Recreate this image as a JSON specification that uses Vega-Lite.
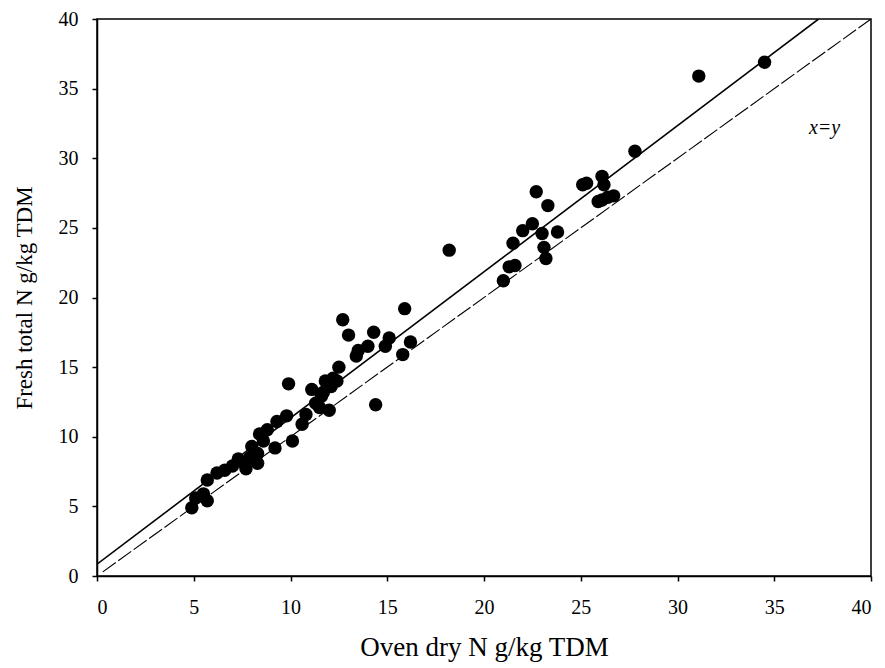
{
  "$schema": "https://vega.github.io/schema/vega-lite/v6.json",
  "width": 774,
  "height": 557,
  "autosize": "none",
  "padding": {"left": 97, "top": 19, "right": 14, "bottom": 92},
  "background": "white",
  "config": {
    "view": {"stroke": "black", "strokeWidth": 1.5},
    "font": "Liberation Serif",
    "axis": {
      "grid": false,
      "domainColor": "black",
      "domainWidth": 1.5,
      "tickColor": "black",
      "tickWidth": 1.5,
      "tickSize": 5,
      "labelFont": "Liberation Serif",
      "labelFontSize": 20,
      "labelColor": "black",
      "titleFont": "Liberation Serif",
      "titleFontWeight": "normal",
      "titleColor": "black"
    }
  },
  "datasets": {
    "pts": [
      {"oven": 4.9, "fresh": 4.9}, {"oven": 5.1, "fresh": 5.6}, {"oven": 5.5, "fresh": 5.9}, {"oven": 5.7, "fresh": 5.4},
      {"oven": 5.7, "fresh": 6.9}, {"oven": 6.2, "fresh": 7.4}, {"oven": 6.6, "fresh": 7.6}, {"oven": 7.0, "fresh": 7.9},
      {"oven": 7.3, "fresh": 8.4}, {"oven": 7.6, "fresh": 8.1}, {"oven": 7.7, "fresh": 7.7}, {"oven": 7.9, "fresh": 8.5},
      {"oven": 8.0, "fresh": 9.3}, {"oven": 8.3, "fresh": 8.8}, {"oven": 8.3, "fresh": 8.1}, {"oven": 8.4, "fresh": 10.2},
      {"oven": 8.6, "fresh": 9.7}, {"oven": 8.8, "fresh": 10.5}, {"oven": 9.2, "fresh": 9.2}, {"oven": 9.3, "fresh": 11.1},
      {"oven": 9.8, "fresh": 11.5}, {"oven": 9.9, "fresh": 13.8}, {"oven": 10.1, "fresh": 9.7}, {"oven": 10.6, "fresh": 10.9},
      {"oven": 10.8, "fresh": 11.6}, {"oven": 11.1, "fresh": 13.4}, {"oven": 11.3, "fresh": 12.4}, {"oven": 11.5, "fresh": 12.1},
      {"oven": 11.6, "fresh": 12.9}, {"oven": 11.7, "fresh": 13.2}, {"oven": 11.8, "fresh": 14.0}, {"oven": 12.0, "fresh": 11.9},
      {"oven": 12.1, "fresh": 13.6}, {"oven": 12.2, "fresh": 14.2}, {"oven": 12.4, "fresh": 14.0}, {"oven": 12.5, "fresh": 15.0},
      {"oven": 12.7, "fresh": 18.4}, {"oven": 13.0, "fresh": 17.3}, {"oven": 13.4, "fresh": 15.8}, {"oven": 13.5, "fresh": 16.2},
      {"oven": 14.0, "fresh": 16.5}, {"oven": 14.3, "fresh": 17.5}, {"oven": 14.4, "fresh": 12.3}, {"oven": 14.9, "fresh": 16.5},
      {"oven": 15.1, "fresh": 17.1}, {"oven": 15.8, "fresh": 15.9}, {"oven": 15.9, "fresh": 19.2}, {"oven": 16.2, "fresh": 16.8},
      {"oven": 18.2, "fresh": 23.4},
      {"oven": 21.0, "fresh": 21.2}, {"oven": 21.3, "fresh": 22.2}, {"oven": 21.6, "fresh": 22.3}, {"oven": 21.5, "fresh": 23.9},
      {"oven": 22.0, "fresh": 24.8}, {"oven": 22.5, "fresh": 25.3}, {"oven": 22.7, "fresh": 27.6}, {"oven": 23.0, "fresh": 24.6},
      {"oven": 23.1, "fresh": 23.6}, {"oven": 23.2, "fresh": 22.8}, {"oven": 23.3, "fresh": 26.6}, {"oven": 23.8, "fresh": 24.7},
      {"oven": 25.1, "fresh": 28.1}, {"oven": 25.3, "fresh": 28.2}, {"oven": 25.9, "fresh": 26.9}, {"oven": 26.1, "fresh": 28.7},
      {"oven": 26.2, "fresh": 28.1}, {"oven": 26.1, "fresh": 27.0}, {"oven": 26.4, "fresh": 27.2}, {"oven": 26.7, "fresh": 27.3},
      {"oven": 27.8, "fresh": 30.5}, {"oven": 31.1, "fresh": 35.9}, {"oven": 34.5, "fresh": 36.9}
    ],
    "fit": [{"oven": 0, "fresh": 0.85}, {"oven": 37.29, "fresh": 40}],
    "identity": [{"oven": 0.3, "fresh": 0.3}, {"oven": 40, "fresh": 40}],
    "label": [{"oven": 37.6, "fresh": 32.2, "text": "x=y"}]
  },
  "layer": [
    {
      "data": {"name": "fit"},
      "mark": {"type": "line", "color": "black", "strokeWidth": 1.6, "clip": true},
      "encoding": {
        "x": {"field": "oven", "type": "quantitative", "scale": {"domain": [0, 40], "nice": false},
              "axis": {"values": [0, 5, 10, 15, 20, 25, 30, 35, 40], "title": "Oven dry N g/kg TDM", "titleFontSize": 27, "titlePadding": 17, "labelPadding": 16}},
        "y": {"field": "fresh", "type": "quantitative", "scale": {"domain": [0, 40], "nice": false},
              "axis": {"values": [0, 5, 10, 15, 20, 25, 30, 35, 40], "title": "Fresh total N g/kg TDM", "titleFontSize": 23, "titlePadding": 22, "labelPadding": 14}}
      }
    },
    {
      "data": {"name": "identity"},
      "mark": {"type": "line", "color": "black", "strokeWidth": 1.1, "strokeDash": [16, 3], "clip": true},
      "encoding": {
        "x": {"field": "oven", "type": "quantitative"},
        "y": {"field": "fresh", "type": "quantitative"}
      }
    },
    {
      "data": {"name": "pts"},
      "mark": {"type": "circle", "color": "black", "opacity": 1, "size": 180},
      "encoding": {
        "x": {"field": "oven", "type": "quantitative"},
        "y": {"field": "fresh", "type": "quantitative"}
      }
    },
    {
      "data": {"name": "label"},
      "mark": {"type": "text", "font": "Liberation Serif", "fontStyle": "italic", "fontSize": 20, "color": "black", "align": "center", "baseline": "middle"},
      "encoding": {
        "x": {"field": "oven", "type": "quantitative"},
        "y": {"field": "fresh", "type": "quantitative"},
        "text": {"field": "text"}
      }
    }
  ]
}
